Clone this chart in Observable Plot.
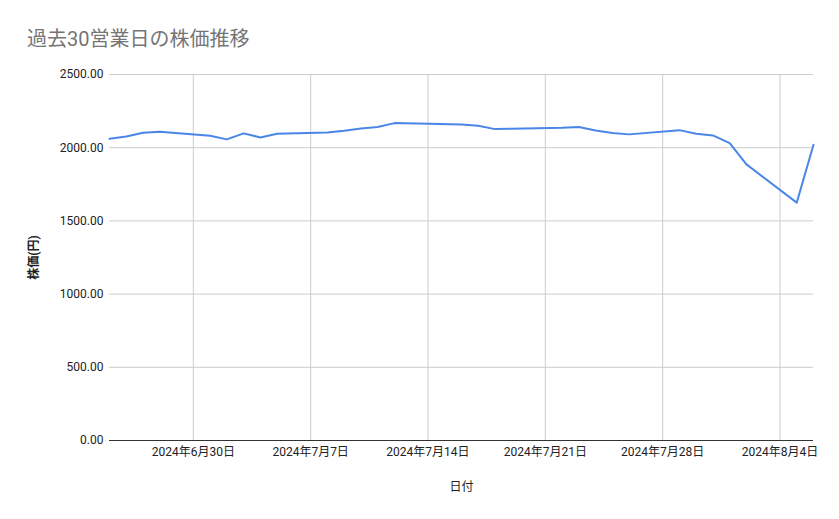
<!DOCTYPE html>
<html>
<head>
<meta charset="utf-8">
<script src="https://cdn.jsdelivr.net/npm/d3@7"></script>
<script src="https://cdn.jsdelivr.net/npm/@observablehq/plot@0.6"></script>
<style>
  body { margin: 0; background: #fff; }
  #title { height: 60px; box-sizing: border-box; padding: 28px 0 0 27px; font: 20px/22px Roboto, "Noto Sans CJK JP", sans-serif; color: #757575; }
</style>
</head>
<body>
<div id="title">過去30営業日の株価推移</div>
<div id="chart"></div>
<script>
const dates = [
  "2024-06-25","2024-06-26","2024-06-27","2024-06-28",
  "2024-07-01","2024-07-02","2024-07-03","2024-07-04","2024-07-05",
  "2024-07-08","2024-07-09","2024-07-10","2024-07-11","2024-07-12",
  "2024-07-16","2024-07-17","2024-07-18","2024-07-19",
  "2024-07-22","2024-07-23","2024-07-24","2024-07-25","2024-07-26",
  "2024-07-29","2024-07-30","2024-07-31","2024-08-01","2024-08-02",
  "2024-08-05","2024-08-06"
];
const prices = [
  2061, 2077, 2102, 2109,
  2082, 2057, 2098, 2070, 2095,
  2104, 2116, 2131, 2141, 2168,
  2158, 2150, 2127, 2130,
  2136, 2141, 2118, 2101, 2091,
  2120, 2095, 2084, 2031, 1886,
  1625, 2020
];
const xTickDates = ["2024-06-30","2024-07-07","2024-07-14","2024-07-21","2024-07-28","2024-08-04"];
const yTicks = [0, 500, 1000, 1500, 2000, 2500];
const xDomain = ["2024-06-25", "2024-08-06"];
const title = "過去30営業日の株価推移";
const xLabel = "日付";
const yLabel = "株価(円)";

const toDate = s => new Date(s + "T00:00:00Z");
const data = dates.map((d, i) => ({date: toDate(d), price: prices[i]}));
const xTicks = xTickDates.map(toDate);
const fmt = d => `${d.getUTCFullYear()}年${d.getUTCMonth() + 1}月${d.getUTCDate()}日`;

document.getElementById("title").textContent = title;

const chart = Plot.plot({
  width: 839,
  height: 459,
  marginTop: 14,
  marginBottom: 79,
  marginLeft: 109,
  marginRight: 26,
  style: {fontFamily: "Roboto, 'Noto Sans CJK JP', sans-serif", fontSize: "12px", color: "#222", background: "#fff"},
  x: {type: "utc", domain: xDomain.map(toDate)},
  y: {domain: [0, 2500]},
  marks: [
    Plot.gridY(yTicks, {stroke: "#ccc", strokeOpacity: 1}),
    Plot.gridX(xTicks, {stroke: "#ccc", strokeOpacity: 1}),
    Plot.axisY(yTicks, {tickSize: 0, tickPadding: 6, tickFormat: d3.format(".2f"), label: yLabel, labelAnchor: "center", labelOffset: 80, labelArrow: false}),
    Plot.axisX(xTicks, {tickSize: 0, tickPadding: 7, tickFormat: fmt, label: xLabel, labelAnchor: "center", labelOffset: 50, labelArrow: false}),
    Plot.ruleY([0], {stroke: "#333", strokeWidth: 1}),
    Plot.lineY(data, {x: "date", y: "price", stroke: "#4a86e8", strokeWidth: 2})
  ]
});
const yl = chart.querySelector('[aria-label="y-axis label"]');
if (yl) yl.setAttribute("font-weight", "bold");
document.getElementById("chart").appendChild(chart);
</script>
</body>
</html>
